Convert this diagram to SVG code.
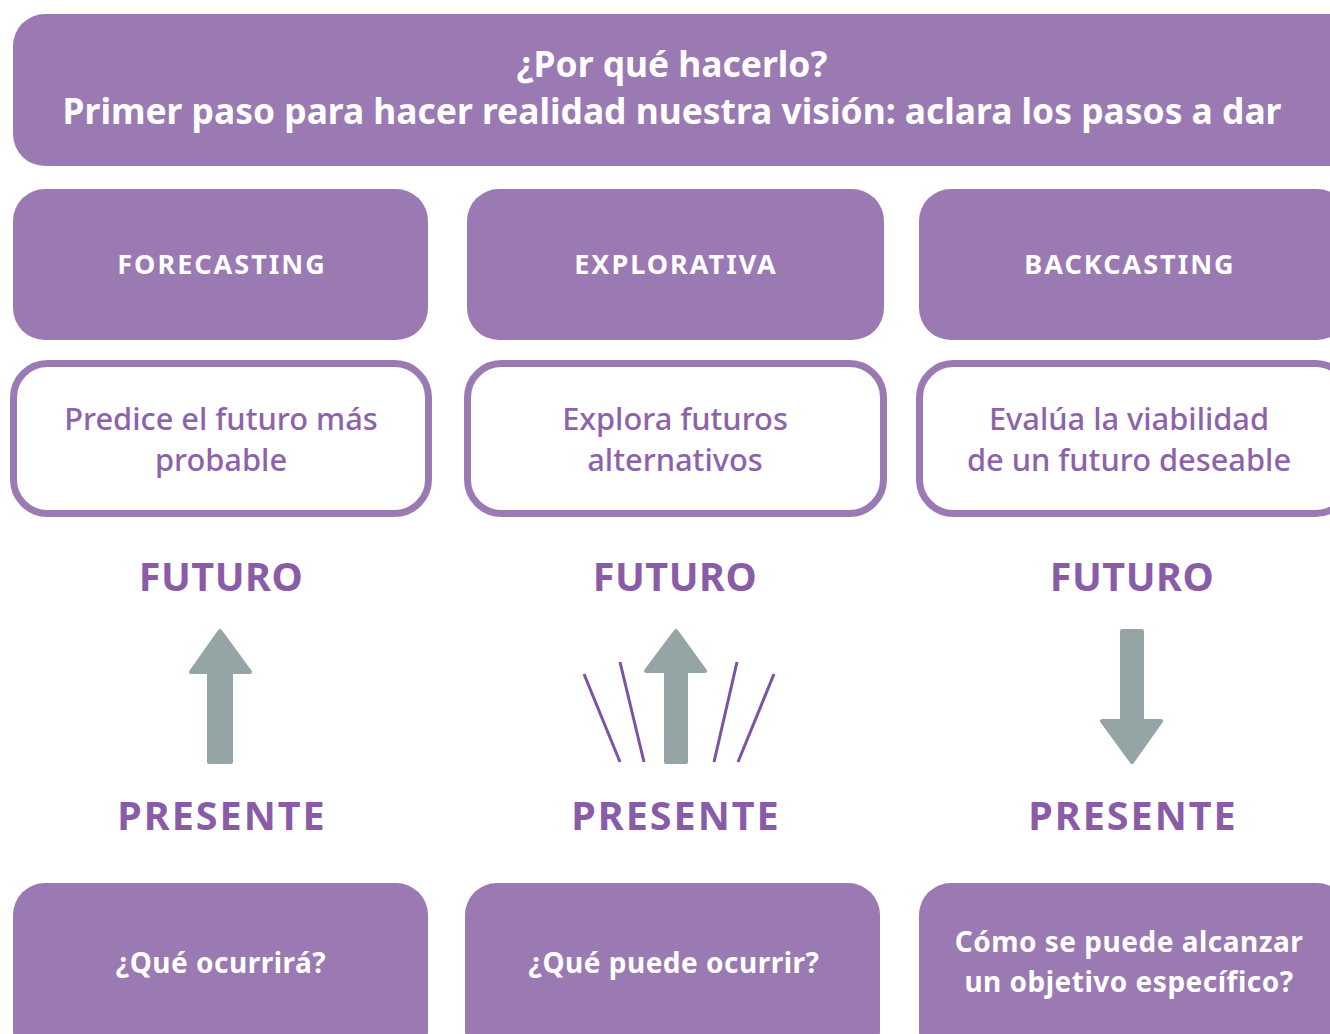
<svg xmlns="http://www.w3.org/2000/svg" width="1330" height="1034" viewBox="0 0 1330 1034">
<style>
.box{fill:#9b7ab3}
.out{fill:#fff;stroke:#9b7ab3;stroke-width:7}
.t{font-family:"Noto Sans","Open Sans",sans-serif;text-anchor:middle}
.title{fill:#fff;font-weight:700;font-size:35.4px}
.lab{fill:#fff;font-weight:700;font-size:27px;letter-spacing:2px}
.desc{fill:#8e62ab;font-size:30.8px;font-weight:500}
.big{fill:#8a5ca8;font-weight:700;font-size:39.5px;letter-spacing:2px}
.fut{letter-spacing:0.5px}
.q{fill:#fff;font-weight:700;font-size:28px;letter-spacing:0.5px}
.arr{fill:#95a4a4;stroke:#95a4a4;stroke-width:4;stroke-linejoin:round}
.ray{stroke:#7d52a0;stroke-width:3;fill:none}
</style>
<rect width="1330" height="1034" fill="#fff"/>
<g id="header">
<rect class="box" x="13" y="14" width="1350" height="152" rx="32"/>
<text class="t title" x="672" y="77">¿Por qué hacerlo?</text>
<text class="t title" x="672" y="124">Primer paso para hacer realidad nuestra visión: aclara los pasos a dar</text>
</g>
<g id="forecasting">
<rect class="box" x="13" y="189" width="415" height="151" rx="32"/>
<text class="t lab" x="222" y="274">FORECASTING</text>
</g>
<g id="explorativa">
<rect class="box" x="467" y="189" width="417" height="151" rx="32"/>
<text class="t lab" x="676" y="274">EXPLORATIVA</text>
</g>
<g id="backcasting">
<rect class="box" x="919" y="189" width="430" height="151" rx="32"/>
<text class="t lab" x="1130" y="274">BACKCASTING</text>
</g>
<g id="desc1">
<rect class="out" x="13.5" y="363.5" width="415" height="150" rx="34"/>
<text class="t desc" x="221" y="430">Predice el futuro más</text>
<text class="t desc" x="221" y="471">probable</text>
</g>
<g id="desc2">
<rect class="out" x="467.5" y="363.5" width="416" height="150" rx="34"/>
<text class="t desc" x="675" y="430">Explora futuros</text>
<text class="t desc" x="675" y="471">alternativos</text>
</g>
<g id="desc3">
<rect class="out" x="919.5" y="363.5" width="430" height="150" rx="34"/>
<text class="t desc" x="1129" y="430">Evalúa la viabilidad</text>
<text class="t desc" x="1129" y="471">de un futuro deseable</text>
</g>
<g id="futuro-presente">
<text class="t big fut" x="221" y="591">FUTURO</text>
<text class="t big fut" x="675" y="591">FUTURO</text>
<text class="t big fut" x="1132" y="591">FUTURO</text>
<text class="t big" x="222" y="830">PRESENTE</text>
<text class="t big" x="676" y="830">PRESENTE</text>
<text class="t big" x="1133" y="830">PRESENTE</text>
</g>
<g id="connectors">
<polygon class="arr" points="220,631 191,672 209,672 209,762 231,762 231,672 250,672"/>
<polygon class="arr" points="676,631 646,671 666,671 666,762 686,762 686,671 705,671"/>
<polygon class="arr" points="1122,631 1142,631 1142,721 1161,721 1132,762 1102,721 1122,721"/>
<line class="ray" x1="584" y1="674" x2="620" y2="762"/>
<line class="ray" x1="620" y1="662" x2="644" y2="762"/>
<line class="ray" x1="737" y1="662" x2="714" y2="762"/>
<line class="ray" x1="774" y1="674" x2="738" y2="762"/>
</g>
<g id="q1">
<rect class="box" x="13" y="883" width="415" height="180" rx="32"/>
<text class="t q" x="221" y="973">¿Qué ocurrirá?</text>
</g>
<g id="q2">
<rect class="box" x="465" y="883" width="415" height="180" rx="32"/>
<text class="t q" x="674" y="973">¿Qué puede ocurrir?</text>
</g>
<g id="q3">
<rect class="box" x="919" y="883" width="430" height="180" rx="32"/>
<text class="t q" x="1129" y="952">Cómo se puede alcanzar</text>
<text class="t q" x="1129" y="992">un objetivo específico?</text>
</g>
</svg>
